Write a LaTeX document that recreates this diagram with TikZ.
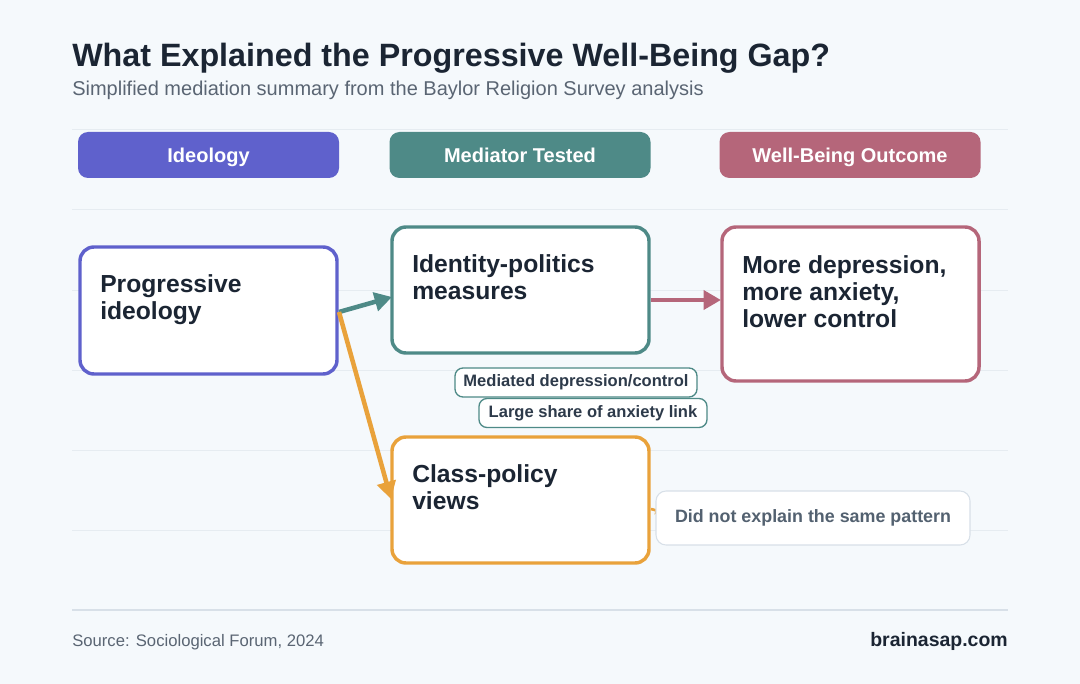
\documentclass[tikz,border=0pt]{standalone}
\usepackage{fontspec}
\setmainfont{Liberation Sans}
\usetikzlibrary{arrows.meta}
\definecolor{bg}{HTML}{F5F9FC}
\definecolor{grid}{HTML}{E6ECF1}
\definecolor{ink}{HTML}{1B2533}
\definecolor{sub}{HTML}{5A6573}
\definecolor{indigo}{HTML}{5F61CC}
\definecolor{teal}{HTML}{4E8A87}
\definecolor{rose}{HTML}{B5667A}
\definecolor{amber}{HTML}{E9A23B}
\definecolor{tagink}{HTML}{2D3A4A}
\definecolor{noteborder}{HTML}{D8E0E8}
\definecolor{noteink}{HTML}{536170}
\tikzset{
  header/.style={rounded corners=7.5pt, minimum width=195.75pt, minimum height=34.5pt, inner sep=0pt,
    text height=11.6pt, text depth=0pt,
    text=white, font=\fontsize{15}{18}\selectfont\bfseries},
  mainbox/.style={draw, line width=2.6pt, rounded corners=10.5pt, fill=white, inner sep=0pt},
  boxtext/.style={anchor=base west, align=left, inner sep=0pt, text=ink, font=\fontsize{18.5}{21}\selectfont\bfseries},
  tag/.style={draw=teal, line width=1pt, rounded corners=6pt, fill=white, inner sep=0pt,
    minimum height=21.75pt, text height=9pt, text depth=2.5pt, text=tagink, font=\fontsize{12.4}{14}\selectfont\bfseries},
  conn/.style={line width=3.4pt, -{Triangle[length=13pt,width=14pt]}},
  gridline/.style={grid, line width=0.75pt}
}
\begin{document}
\begin{tikzpicture}[x=0.75pt,y=-0.75pt]
\fill[bg] (0,0) rectangle (1080,684);
\useasboundingbox (0,0) rectangle (1080,684);
% grid
\foreach \yy in {130,210,290,370,450,530} \draw[gridline] (72,\yy) -- (1008,\yy);
% title
\node[anchor=base west, inner sep=0pt, text=ink, font=\fontsize{24.2}{28}\selectfont\bfseries] (title) at (72,67) {What Explained the Progressive Well-Being Gap?};
\node[anchor=base west, inner sep=0pt, text=sub, font=\fontsize{15}{18}\selectfont] (subtitle) at (72,96) {Simplified mediation summary from the Baylor Religion Survey analysis};
% headers
\node[header, fill=indigo] (h1) at (208.5,155) {Ideology};
\node[header, fill=teal] (h2) at (520,155) {Mediator Tested};
\node[header, fill=rose] (h3) at (850,155) {Well-Being Outcome};
% main boxes
\draw[mainbox, draw=indigo] (80,247) rectangle (337,374);
\node[boxtext] (progtext) at (100,319) {Progressive\\[-1pt]ideology};
\draw[mainbox, draw=teal] (392,227) rectangle (649,353);
\node[boxtext] (idtext) at (412,299) {Identity-politics\\[-1pt]measures};
\draw[mainbox, draw=rose] (722,227) rectangle (979,381);
\node[boxtext] (outtext) at (742,327) {More depression,\\[-1pt]more anxiety,\\[-1pt]lower control};
\draw[mainbox, draw=amber] (392,437) rectangle (649,563);
\node[boxtext] (classtext) at (412,509) {Class-policy\\[-1pt]views};
% connectors
\coordinate (start) at (339,312);
\coordinate (idwest) at (392,297);
\coordinate (classw) at (391,499);
\coordinate (idE) at (651,300);
\coordinate (outW) at (721,300);
\coordinate (classE) at (651,509);
\coordinate (noteW) at (662,512);
\draw[conn, draw=teal, fill=teal] (start) -- (idwest);
\draw[conn, draw=amber, fill=amber] (start) -- (classw);
\draw[conn, draw=rose, fill=rose] (idE) -- (outW);
\draw[amber, line width=2pt, -{Triangle[length=5pt,width=6pt]}] (classE) -- (noteW);
% tags
\node[tag, minimum width=181.5pt] (tag1) at (576,382.5) {Mediated depression/control};
\node[tag, minimum width=171pt] (tag2) at (593,413) {Large share of anxiety link};
% note
\node[draw=noteborder, line width=0.8pt, rounded corners=7.5pt, fill=white, minimum width=235.5pt, minimum height=40.5pt, inner sep=0pt, text height=9.8pt, text depth=2.8pt, text=noteink, font=\fontsize{13.4}{16}\selectfont\bfseries] (note) at (813,518) {Did not explain the same pattern};
% footer
\draw[noteborder, line width=1.5pt] (72,610) coordinate (fl) -- (1008,610) coordinate (fr);
\node[anchor=base west, inner sep=0pt, text=sub, font=\fontsize{12.5}{15}\selectfont] (source) at (72,646) {Source: Sociological Forum, 2024};
\node[anchor=base east, inner sep=0pt, text=ink, font=\fontsize{14.6}{17}\selectfont\bfseries] (brand) at (1008,646) {brainasap.com};
\end{tikzpicture}
\end{document}
